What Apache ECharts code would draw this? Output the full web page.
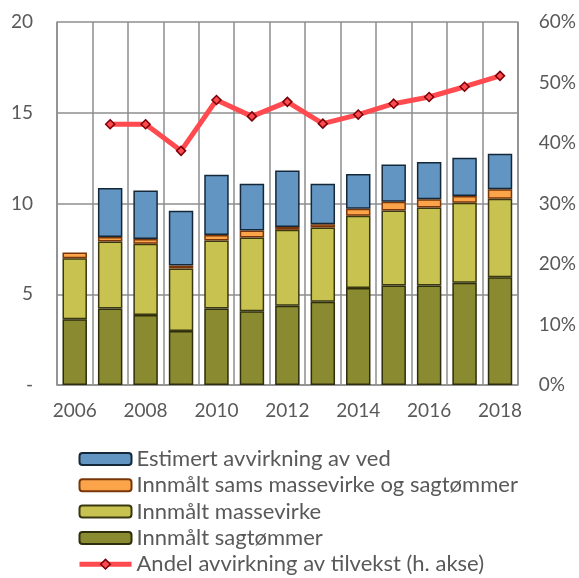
<!DOCTYPE html>
<html>
<head>
<meta charset="utf-8">
<script src="https://cdn.jsdelivr.net/npm/echarts@6/dist/echarts.min.js"></script>
<style>
  html, body { margin: 0; padding: 0; background: #fff; }
  #chart { width: 579px; height: 578px; }
</style>
</head>
<body>
<div id="chart"></div>
<script>
// Årstall på kategoriaksen
const years = ['2006','2007','2008','2009','2010','2011','2012','2013','2014','2015','2016','2017','2018'];

// Avvirkning, mill. m³ (stablet fra bunnen)
const sagtommer   = [3.62, 4.21, 3.86, 2.98, 4.21, 4.06, 4.36, 4.59, 5.35, 5.48, 5.48, 5.64, 5.94];
const massevirke  = [3.37, 3.69, 3.92, 3.44, 3.75, 4.06, 4.19, 4.09, 3.97, 4.13, 4.30, 4.40, 4.32];
const samsVirke   = [0.31, 0.26, 0.26, 0.16, 0.31, 0.39, 0.16, 0.18, 0.39, 0.48, 0.46, 0.38, 0.53];
const vedEstimat  = [null, 2.69, 2.68, 3.02, 3.31, 2.58, 3.11, 2.23, 1.91, 2.06, 2.04, 2.10, 1.95];

// Andel avvirkning av tilvekst, prosent (høyre akse)
const andelTilvekst = [null, 43.1, 43.1, 38.7, 47.1, 44.4, 46.8, 43.2, 44.7, 46.5, 47.6, 49.3, 51.1];

const names = {
  ved: 'Estimert avvirkning av ved',
  sams: 'Innmålt sams massevirke og sagtømmer',
  masse: 'Innmålt massevirke',
  sag: 'Innmålt sagtømmer',
  andel: 'Andel avvirkning av tilvekst (h. akse)'
};

const font = 'Lato, "Open Sans", sans-serif';
const textColor = '#595959';
const gridColor = '#8e8e8e';
const lineRed = '#ff4a4f';

function barSeries(name, data, fill, border) {
  return {
    name: name,
    type: 'bar',
    stack: 'avvirkning',
    data: data,
    barCategoryGap: '31%',
    itemStyle: { color: fill, borderColor: border, borderWidth: 1.5 },
    emphasis: { disabled: true }
  };
}

const chart = echarts.init(document.getElementById('chart'), null, { renderer: 'canvas' });
chart.setOption({
  animation: false,
  textStyle: { fontFamily: font },
  grid: { left: 57, right: 60, top: 22, bottom: 193, containLabel: false },
  legend: {
    orient: 'vertical',
    left: 77,
    top: 448,
    height: 130,
    padding: 0,
    itemWidth: 52,
    itemHeight: 12,
    itemGap: 4.3,
    textStyle: { fontFamily: font, fontSize: 22, color: textColor },
    data: [
      names.ved, names.sams, names.masse, names.sag,
      { name: names.andel, lineStyle: { width: 5, color: lineRed },
        itemStyle: { color: lineRed, borderColor: '#7a0008', borderWidth: 1.5 } }
    ]
  },
  xAxis: {
    type: 'category',
    data: years,
    axisLine: { show: true, lineStyle: { color: gridColor, width: 1.5 } },
    axisTick: { show: false },
    axisLabel: {
      interval: 1,
      color: textColor,
      fontSize: 19,
      fontFamily: font,
      margin: 16
    },
    splitLine: { show: true, interval: 0, lineStyle: { color: gridColor, width: 1.5 } }
  },
  yAxis: [
    {
      type: 'value',
      min: 0, max: 20, interval: 5,
      axisLine: { show: true, lineStyle: { color: gridColor, width: 1.5 } },
      axisTick: { show: false },
      axisLabel: {
        color: textColor, fontSize: 19, fontFamily: font, margin: 24,
        formatter: v => v === 0 ? '-' : String(v)
      },
      splitLine: { show: true, lineStyle: { color: gridColor, width: 1.5 } }
    },
    {
      type: 'value',
      min: 0, max: 60, interval: 10,
      position: 'right',
      axisLine: { show: true, lineStyle: { color: gridColor, width: 1.5 } },
      axisTick: { show: false },
      axisLabel: {
        color: textColor, fontSize: 19, fontFamily: font, margin: 21,
        formatter: v => v + '%'
      },
      splitLine: { show: false }
    }
  ],
  series: [
    barSeries(names.sag, sagtommer, '#8a8a30', '#2e2e0c'),
    barSeries(names.masse, massevirke, '#c8c350', '#3a3810'),
    barSeries(names.sams, samsVirke, '#fba44a', '#7a3608'),
    barSeries(names.ved, vedEstimat, '#6295c1', '#15283a'),
    {
      name: names.andel,
      type: 'line',
      yAxisIndex: 1,
      data: andelTilvekst,
      symbol: 'diamond',
      symbolSize: 9,
      lineStyle: { color: lineRed, width: 5 },
      itemStyle: { color: lineRed, borderColor: '#7a0008', borderWidth: 1.5 },
      emphasis: { disabled: true },
      z: 5
    }
  ]
});
</script>
</body>
</html>
